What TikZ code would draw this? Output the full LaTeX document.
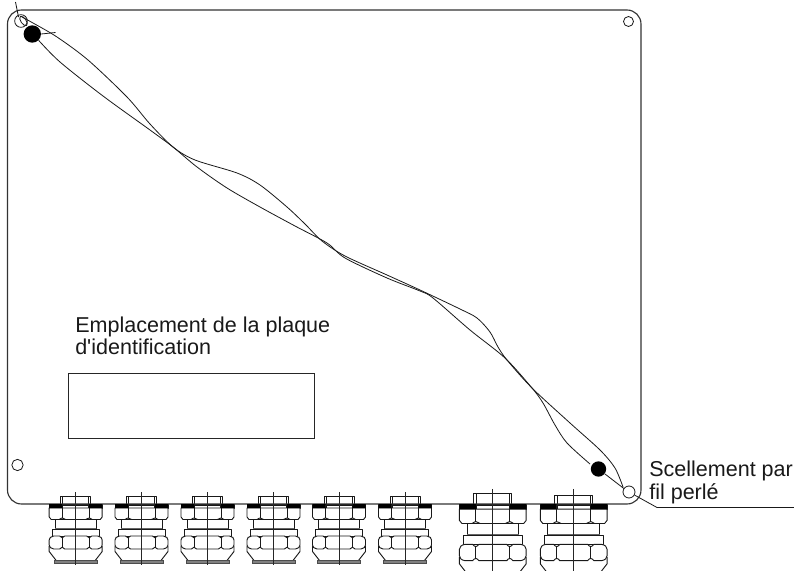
\documentclass[tikz,border=0pt]{standalone}
\usepackage{fontspec}
\setmainfont{Liberation Sans}[Ligatures=TeXOff]
\tikzset{
  px/.style={x=0.75pt,y=-0.75pt},
  panel/.style={draw=black!80,line width=0.85pt},
  wire/.style={draw=black!90,line width=0.6pt,line join=round},
  part/.style={draw=black!90,line width=0.7pt,line join=round},
  axisline/.style={draw=black!85,line width=0.65pt},
  label/.style={inner sep=0pt,align=left,font=\fontsize{16.15}{16.9}\selectfont,anchor=north west,text=black!90},
  hole/.style={draw=black!90,line width=0.6pt,fill=white}
}
% #1 centre x, #2 scale, #3 height of the top cap above the panel edge
\newcommand{\gland}[3]{%
\begin{scope}[shift={(#1,504)},x=#2*0.75pt,y=-#2*0.75pt]
  \draw[part,fill=white] (-15,-#3) rectangle (15,4);
  \draw[part] (-13,-#3) -- (-13,4) (13,-#3) -- (13,4);
  \fill[black] (-26.5,0) rectangle (-13.5,4) (13.5,0) rectangle (26.5,4);
  \draw[part] (-13.5,1.5) -- (13.5,1.5);
  \draw[part] (-26.5,0) rectangle (26.5,4);
  % upper nut
  \draw[part,fill=white] (-26.5,4) -- (-26.5,13) -- (-24.5,15.5) -- (-16.5,15.5)
     .. controls (-15,14.5) and (-14,14) .. (-13.5,14)
     .. controls (-12.5,14) and (-11.5,15) .. (-10,15.5) -- (10,15.5)
     .. controls (11.5,15) and (12.5,14) .. (13.5,14)
     .. controls (14,14) and (15,14.5) .. (16.5,15.5) -- (24.5,15.5) -- (26.5,13) -- (26.5,4) -- cycle;
  \draw[part] (-13.5,4) -- (-13.5,14) (13.5,4) -- (13.5,14);
  % neck and collar
  \draw[part,fill=white] (-20.5,15.5) rectangle (20.5,24);
  \draw[part,fill=white] (-23.5,25) rectangle (23.5,32);
  \draw[draw=black!60,line width=0.8pt] (-20.5,24.5) -- (20.5,24.5);
  % lower nut
  \draw[part,fill=white] (-22,32) -- (-16,32)
     .. controls (-15,33) and (-14.5,33.8) .. (-13.5,33.8)
     .. controls (-12.5,33.8) and (-12,33) .. (-11,32) -- (11,32)
     .. controls (12,33) and (12.5,33.8) .. (13.5,33.8)
     .. controls (14.5,33.8) and (15,33) .. (16,32) -- (22,32)
     .. controls (25,32.5) and (26.5,34) .. (26.5,36) -- (26.5,41)
     .. controls (26.5,43) and (25,44.5) .. (22,45) -- (16,45)
     .. controls (15,44) and (14.5,43.2) .. (13.5,43.2)
     .. controls (12.5,43.2) and (12,44) .. (11,45) -- (-11,45)
     .. controls (-12,44) and (-12.5,43.2) .. (-13.5,43.2)
     .. controls (-14.5,43.2) and (-15,44) .. (-16,45) -- (-22,45)
     .. controls (-25,44.5) and (-26.5,43) .. (-26.5,41) -- (-26.5,36)
     .. controls (-26.5,34) and (-25,32.5) .. (-22,32) -- cycle;
  \draw[part] (-13.5,33.8) -- (-13.5,43.2) (13.5,33.8) -- (13.5,43.2);
  % cone and gland seat
  \draw[part] (-26.5,42) -- (-26.5,47.5) -- (-19.5,56.5) (26.5,42) -- (26.5,47.5) -- (19.5,56.5);
  \draw[draw=black!70,line width=0.5pt,fill=black!50] (-21.5,56.5) rectangle (21.5,59.5);
  % axis
  \draw[axisline] (0,-12) -- (0,61);
\end{scope}}
\begin{document}
\begin{tikzpicture}[px]
\useasboundingbox (0,0) rectangle (794,571);
% glands
\foreach \cx in {75.7,141.5,207.5,273.5,339,405}{\gland{\cx}{1}{7.3}}
\gland{492.8}{1.26}{8.7}
\gland{573.7}{1.26}{7.1}
% panel
\draw[panel,rounded corners=10.5pt] (7.5,10) rectangle (641,504);
% glands' flanges sit over the panel edge
\foreach \cx in {75.7,141.5,207.5,273.5,339,405}{
  \fill[black] (\cx-26.5,504) rectangle (\cx-13.5,508) (\cx+13.5,504) rectangle (\cx+26.5,508);}
\foreach \cx in {492.8,573.7}{
  \fill[black] (\cx-33.4,504) rectangle (\cx-17,509) (\cx+17,504) rectangle (\cx+33.4,509);}
% nameplate
\node[draw=black!85,line width=0.6pt,minimum width=184.5pt,minimum height=48.75pt,inner sep=0pt,anchor=north west] (plate) at (68,373) {};
% labels
\node[label] (platelabel) at (75,316.5) {Emplacement de la plaque\\d'identification};
\node[label] (seallabel) at (649,461) {Scellement par\\fil perlé};
% holes
\node[hole,circle,minimum size=9.5pt,inner sep=0pt] (holeTL) at (21,21) {};
\node[hole,circle,minimum size=7.5pt,inner sep=0pt] (holeTR) at (628.5,21.5) {};
\node[hole,circle,minimum size=8.5pt,inner sep=0pt] (holeBL) at (17.5,465) {};
% seal dots
\node[circle,fill=black,minimum size=13pt,inner sep=0pt] (dotA) at (32.3,34) {};
\node[circle,fill=black,minimum size=11.5pt,inner sep=0pt] (dotB) at (598.5,469) {};
% leader
\coordinate (bend) at (657,507.5);
\coordinate (free) at (794,507.5);
% wires
\draw[wire] (15.5,2) -- (18.5,17);
\draw[wire,rotate around={-55:(23.5,21)}] (23.5,21) ellipse (5.5 and 2.6);
\draw[wire] (dotA.east) -- (55.5,32.5);
\draw[wire] plot[smooth,tension=0.5] coordinates {(22,17) (33,23) (57,37) (88,60) (127,97) (150,124) (173,147)
   (195,160) (237,173) (260,185) (287,207) (305,224) (322,241) (345,256) (387,275) (420,290)
   (460,309) (477,318) (490,332) (498,347) (507,360) (532,388) (570,423) (600,450) (615,468) (623,487)};
\draw[wire] plot[smooth,tension=0.5] coordinates {(dotA.south east) (60,62) (103,96) (150,130) (173,147)
   (197,167) (227,188) (260,207) (295,226) (327,243) (345,258) (387,278) (420,291)
   (433,298) (470,330) (505,358) (532,388) (543,403) (555,425) (567,443) (590,464)};
\draw[wire] (dotB) -- (624.5,489);
\node[hole,circle,minimum size=9pt,inner sep=0pt] (holeBR) at (629,492) {};
\draw[wire] (holeBR) -- (bend) -- (free);
\end{tikzpicture}
\end{document}
